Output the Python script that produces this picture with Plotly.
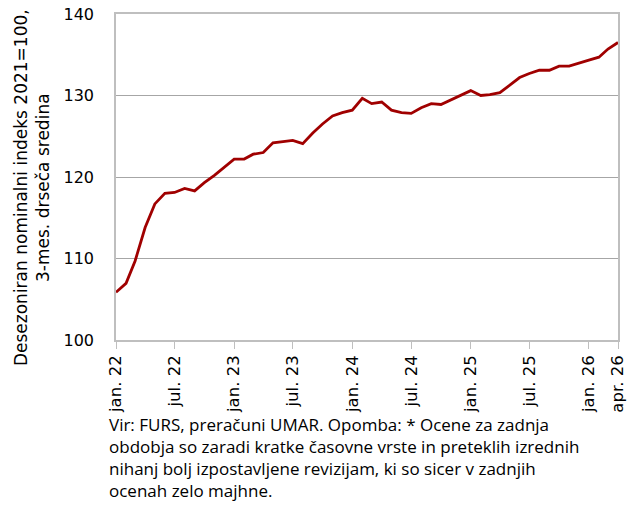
import pandas as pd
import plotly.graph_objects as go

months = pd.date_range("2022-01-01", "2026-04-01", freq="MS")
index_values = [105.85, 106.95, 109.7, 113.8, 116.7, 118.0, 118.1, 118.6, 118.3, 119.3, 120.2, 121.2,
                122.2, 122.2, 122.8, 123.0, 124.2, 124.35, 124.5, 124.1, 125.4, 126.5, 127.5, 127.9,
                128.2, 129.65, 129.0, 129.2, 128.2, 127.9, 127.8, 128.5, 129.0, 128.9, 129.45, 130.05,
                130.6, 130.0, 130.1, 130.35, 131.3, 132.2, 132.7, 133.1, 133.1, 133.6, 133.6, 134.0,
                134.35, 134.7, 135.7, 136.5]
tick_dates = ["2022-01-01", "2022-07-01", "2023-01-01", "2023-07-01", "2024-01-01", "2024-07-01",
              "2025-01-01", "2025-07-01", "2026-01-01", "2026-04-01"]
tick_labels = ["jan. 22", "jul. 22", "jan. 23", "jul. 23", "jan. 24", "jul. 24",
               "jan. 25", "jul. 25", "jan. 26", "apr. 26"]
y_title = "Desezoniran nominalni indeks 2021=100,<br>3-mes. drseča sredina"
note_lines = ["Vir: FURS, preračuni UMAR. Opomba: * Ocene za zadnja",
              "obdobja so zaradi kratke časovne vrste in preteklih izrednih",
              "nihanj bolj izpostavljene revizijam, ki so sicer v zadnjih",
              "ocenah zelo majhne."]

fig = go.Figure()
fig.add_trace(go.Scatter(x=months, y=index_values, mode="lines",
                         line=dict(color="#a00000", width=2.8), showlegend=False))

fig.update_layout(
    width=631, height=508,
    margin=dict(l=116, r=13, t=14, b=168),
    plot_bgcolor="white", paper_bgcolor="white",
    font=dict(family="DejaVu Sans", size=16, color="black"),
)
fig.update_xaxes(
    range=["2022-01-01", "2026-04-01"], automargin=False,
    tickvals=tick_dates, ticktext=tick_labels, tickangle=-90,
    tickfont=dict(size=16.5), ticklabelstandoff=0, ticklabeloverflow="allow",
    ticks="outside", ticklen=7, tickcolor="#bfbfbf", tickwidth=1.3,
    showgrid=False, showline=True, linecolor="#bfbfbf", linewidth=1.5, mirror=True,
)
fig.update_yaxes(
    range=[100, 140], dtick=10, automargin=False,
    tickfont=dict(size=16), ticklabeloverflow="allow",
    showgrid=True, gridcolor="#a6a6a6", gridwidth=1.3,
    showline=True, linecolor="#bfbfbf", linewidth=1.5, mirror=True,
    zeroline=False, ticks="", ticklabelstandoff=17,
)
fig.add_annotation(text=y_title, textangle=-90, xref="paper", yref="paper",
                   x=-0.1674, y=0.469, xanchor="center", yanchor="middle",
                   showarrow=False, font=dict(size=17))
note_mid = [424.5, 446.5, 468.5, 490.5]
for line, ypx in zip(note_lines, note_mid):
    fig.add_annotation(text=line, xref="paper", yref="paper",
                       x=-0.018, y=(340 - ypx) / 326, xanchor="left", yanchor="middle",
                       showarrow=False, align="left",
                       font=dict(family="Open Sans", size=17))

# drop the browser's default 8px body margin so the figure fills the window
fig.write_html("out.html", config={"displayModeBar": False},
               post_script="document.body.style.margin='0';")
